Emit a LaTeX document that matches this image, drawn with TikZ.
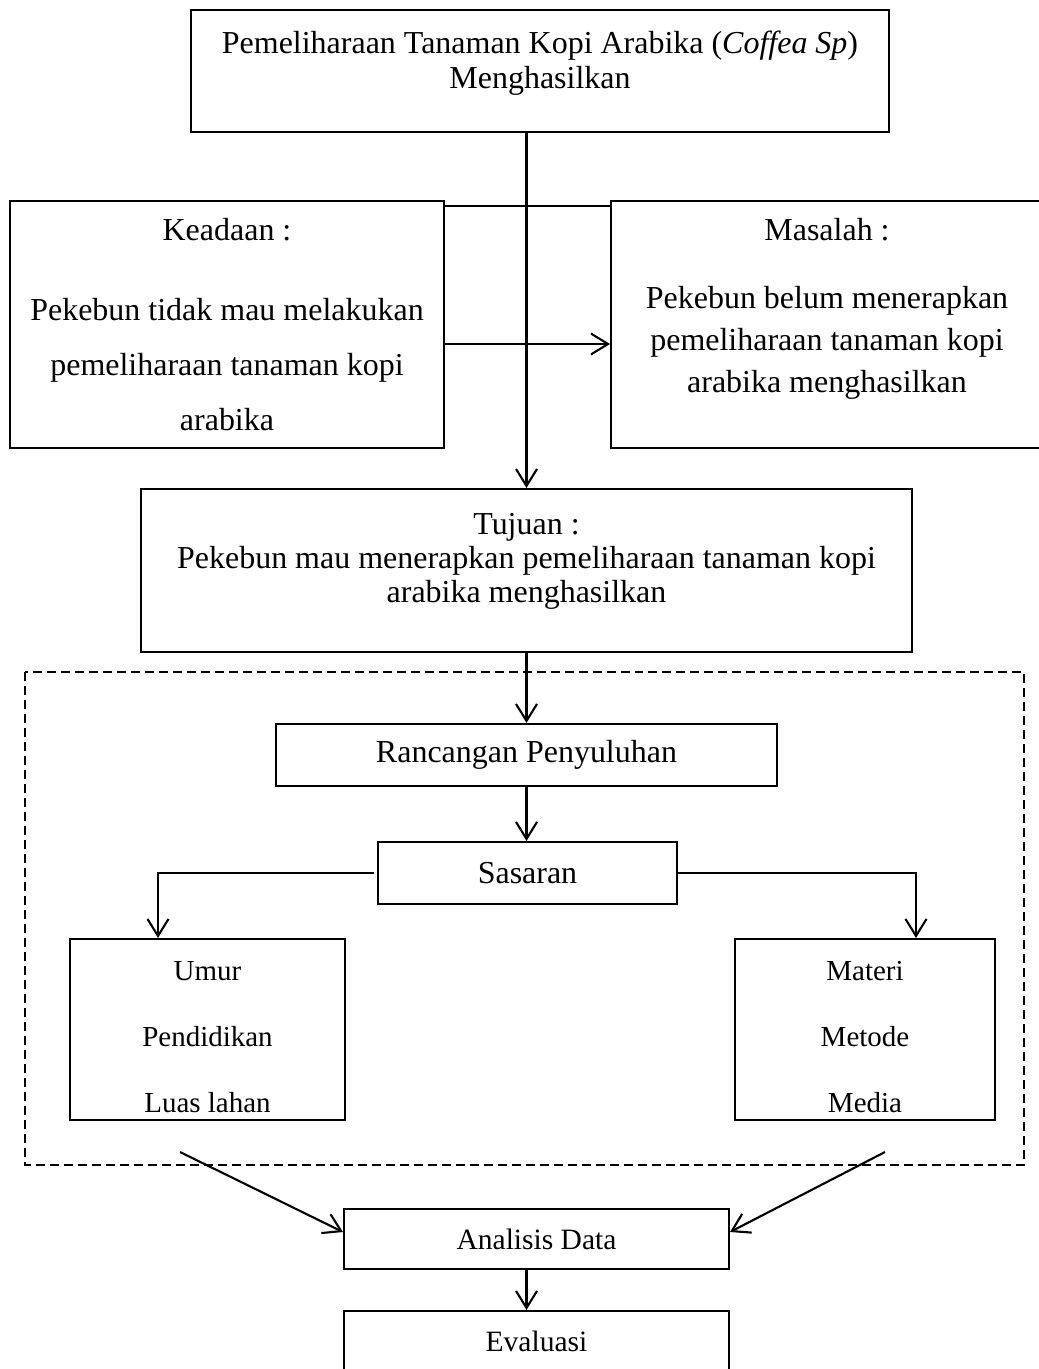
\documentclass[tikz,border=0pt]{standalone}
\usepackage{fontspec}
\setmainfont{Liberation Serif}
\usetikzlibrary{arrows.meta,positioning}
\newcommand{\tailgap}[1]{\rule[-#1]{0pt}{#1}}
\newcommand{\topgap}[1]{\rule{0pt}{#1}}

\begin{document}
\begin{tikzpicture}[
			x=0.02cm, y=-0.02cm,
			line width=1.2pt,
			every node/.style={font=\fontsize{18.2}{21}\selectfont},
			box/.style={draw, align=center, inner sep=0pt},
			kecil/.style={font=\fontsize{16.8}{19}\selectfont},
			panah/.style={-{Straight Barb[length=0.34cm,width=0.42cm]}}
			]
			\useasboundingbox (0,0) rectangle (1038,1369);
			
			% Judul
			\node (judul) [box, minimum width=13.96cm, minimum height=2.44cm, font=\fontsize{18.2}{19.9}\selectfont] at (540,71) {Pemeliharaan Tanaman Kopi Arabika (\textit{Coffea Sp})\\Menghasilkan\tailgap{0.45cm}};
			
			% Keadaan dan Masalah
			\node (keadaan) [box, minimum width=8.68cm, minimum height=4.94cm, font=\fontsize{18.2}{31.3}\selectfont] at (227,324.5) {Keadaan :\\[14.2pt]Pekebun tidak mau melakukan\\pemeliharaan tanaman kopi\\arabika};
			\node (masalah) [box, minimum width=8.64cm, minimum height=4.94cm, font=\fontsize{18.2}{23.9}\selectfont] at (827,324.5) {Masalah :\\[14.8pt]Pekebun belum menerapkan\\pemeliharaan tanaman kopi\\arabika menghasilkan\tailgap{0.76cm}};
			\draw ([yshift=-0.12cm]keadaan.north east) -- ([yshift=-0.12cm]masalah.north west);
			\draw[panah] ([yshift=-0.39cm]keadaan.east) -- ([yshift=-0.39cm]masalah.west);
			
			% Tujuan
			\node (tujuan) [box, minimum width=15.42cm, minimum height=3.26cm, font=\fontsize{18.2}{19.3}\selectfont] at (526.5,570.5) {Tujuan :\\Pekebun mau menerapkan pemeliharaan tanaman kopi\\arabika menghasilkan\tailgap{0.52cm}};
			\draw[panah] (judul.south -| tujuan.north) -- (tujuan.north);
			
			% Rancangan penyuluhan
			\draw[dash pattern=on 0.18cm off 0.1cm, line width=0.9pt] (25,672) rectangle (1024,1165);
			\node (rancangan) [box, minimum width=10.02cm, minimum height=1.24cm] at (526.5,755) {Rancangan Penyuluhan};
			\node (sasaran) [box, minimum width=5.98cm, minimum height=1.24cm] at (527.5,873) {Sasaran};
			\node (umur) [box, minimum width=5.5cm, minimum height=3.62cm, font=\fontsize{16.5}{37.6}\selectfont] at (207.5,1029.5) {\topgap{0.68cm}Umur\\Pendidikan\\Luas lahan};
			\node (materi) [box, minimum width=5.2cm, minimum height=3.62cm, font=\fontsize{16.5}{37.6}\selectfont] at (865,1029.5) {\topgap{0.68cm}Materi\\Metode\\Media};
			\draw[panah] (tujuan.south) -- (rancangan.north);
			\draw[panah] (rancangan.south) -- (rancangan.south |- sasaran.north);
			\draw[panah] ([xshift=-0.06cm]sasaran.west) -| ([xshift=-0.99cm]umur.north);
			\draw[panah] (sasaran.east) -| ([xshift=1.02cm]materi.north);
			
			% Analisis dan Evaluasi
			\node (analisis) [box, kecil, minimum width=7.7cm, minimum height=1.2cm] at (536.5,1239) {Analisis Data};
			\node (evaluasi) [box, kecil, minimum width=7.7cm, minimum height=1.2cm] at (536.5,1341) {Evaluasi};
			\coordinate (ujungkiri) at (180,1152);
			\coordinate (ujungkanan) at (885,1152);
			\draw[panah] (ujungkiri) -- ([yshift=0.14cm]analisis.west);
			\draw[panah] (ujungkanan) -- ([yshift=0.14cm]analisis.east);
			\draw[panah] (analisis.south -| tujuan.south) -- (evaluasi.north -| tujuan.south);
		\end{tikzpicture}
\end{document}
